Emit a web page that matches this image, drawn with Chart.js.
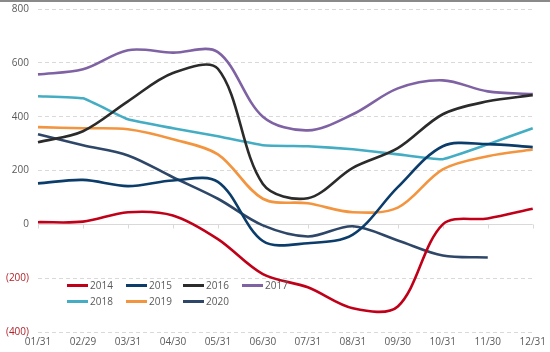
<!DOCTYPE html>
<html>
<head>
<meta charset="utf-8">
<script src="https://cdn.jsdelivr.net/npm/chart.js@4"></script>
<style>
  html, body { margin:0; padding:0; background:#fff; overflow:hidden; }
  #wrap { position:relative; width:550px; height:352px; border-top:2px solid #8a8a8a; box-sizing:border-box; overflow:hidden; }
  canvas { position:absolute; left:0; top:-8px; }
  #legend { position:absolute; left:0; top:0; font-family:"Open Sans", sans-serif; font-size:10px; color:#595959; }
  .item { position:absolute; display:flex; align-items:center; white-space:nowrap; }
  .swatch { width:21px; height:3px; margin-right:2px; }
</style>
</head>
<body>
<div id="wrap">
  <canvas id="c" width="550" height="358"></canvas>
  <div id="legend"></div>
</div>
<script>
const categories = ["01/31","02/29","03/31","04/30","05/31","06/30","07/31","08/31","09/30","10/31","11/30","12/31"];
const yTicks = [800, 600, 400, 200, 0, -200, -400];
const s2014 = [8, 10, 45, 33, -55, -185, -234, -312, -305, 0, 22, 58];
const s2015 = [152, 165, 142, 163, 158, -62, -70, -38, 138, 290, 298, 287];
const s2016 = [305, 346, 457, 562, 578, 150, 97, 210, 283, 409, 457, 480];
const s2017 = [557, 576, 647, 638, 640, 400, 349, 409, 505, 535, 494, 484];
const s2018 = [476, 468, 390, 357, 327, 294, 290, 279, 260, 242, 297, 357];
const s2019 = [361, 357, 353, 316, 260, 95, 78, 45, 62, 204, 253, 278];
const s2020 = [335, 294, 256, 175, 95, -4, -45, -7, -60, -116, -123, null];
const seriesNames = ["2014","2015","2016","2017","2018","2019","2020"];
const seriesData = [s2014, s2015, s2016, s2017, s2018, s2019, s2020];
const seriesColors = ["#c00018","#0b3c6a","#2b2b2b","#7f62a3","#44adc4","#f3943f","#2e4768"];
const seriesTension = [0.33,0.33,0.33,0.33,0.12,0.33,0.33];

const font = { family: '"Open Sans", sans-serif', size: 10 };

const zeroLinePlugin = {
  id: 'zeroLine',
  beforeDatasetsDraw(chart) {
    const {ctx, chartArea, scales} = chart;
    const y0 = Math.round(scales.y.getPixelForValue(0)) + 0.5;
    ctx.save();
    ctx.strokeStyle = '#d9d9d9';
    ctx.lineWidth = 1;
    ctx.beginPath();
    ctx.moveTo(chartArea.left, y0);
    ctx.lineTo(chartArea.right, y0);
    scales.x.ticks.forEach((t, i) => {
      const x = Math.round(scales.x.getPixelForTick(i)) + 0.5;
      ctx.moveTo(x, y0);
      ctx.lineTo(x, y0 + 4);
    });
    ctx.stroke();
    ctx.restore();
  }
};

new Chart(document.getElementById('c'), {
  type: 'line',
  data: {
    labels: categories,
    datasets: seriesNames.map((n, i) => ({
      label: n,
      data: seriesData[i],
      borderColor: seriesColors[i],
      backgroundColor: seriesColors[i],
      borderWidth: 2.6,
      pointRadius: 0,
      tension: seriesTension[i],
      fill: false,
      spanGaps: false
    }))
  },
  options: {
    responsive: false,
    animation: false,
    layout: { padding: { top: 0, right: 14, bottom: 0, left: 0 } },
    plugins: { legend: { display: false }, tooltip: { enabled: false } },
    scales: {
      x: {
        type: 'category',
        offset: false,
        grid: { display: false, drawTicks: false },
        border: { display: false },
        ticks: { font, color: '#595959', padding: 4, maxRotation: 0, autoSkip: false }
      },
      y: {
        min: -400, max: 800,
        afterFit(scale) { scale.width = 38; },
        afterBuildTicks(scale) { scale.ticks = yTicks.map(v => ({ value: v })); },
        grid: {
          drawTicks: false,
          lineWidth: 1,
          color: ctx => (ctx.tick && ctx.tick.value === 0) ? 'rgba(0,0,0,0)' : '#d9d9d9'
        },
        border: { display: false, dash: [4, 3] },
        ticks: {
          font,
          padding: 9,
          color: ctx => (ctx.tick && ctx.tick.value < 0) ? '#b0232a' : '#595959',
          callback: v => v < 0 ? '(' + Math.abs(v) + ')' : String(v)
        }
      }
    }
  },
  plugins: [zeroLinePlugin]
});

// legend
const legendPos = [[67,283],[126,283],[183,283],[242,283],[67,299],[126,299],[183,299]];
const leg = document.getElementById('legend');
seriesNames.forEach((n, i) => {
  const d = document.createElement('div');
  d.className = 'item';
  d.style.left = legendPos[i][0] + 'px';
  d.style.top = (legendPos[i][1] - 7) + 'px';
  d.innerHTML = '<span class="swatch" style="background:' + seriesColors[i] + '"></span><span>' + n + '</span>';
  leg.appendChild(d);
});
</script>
</body>
</html>
